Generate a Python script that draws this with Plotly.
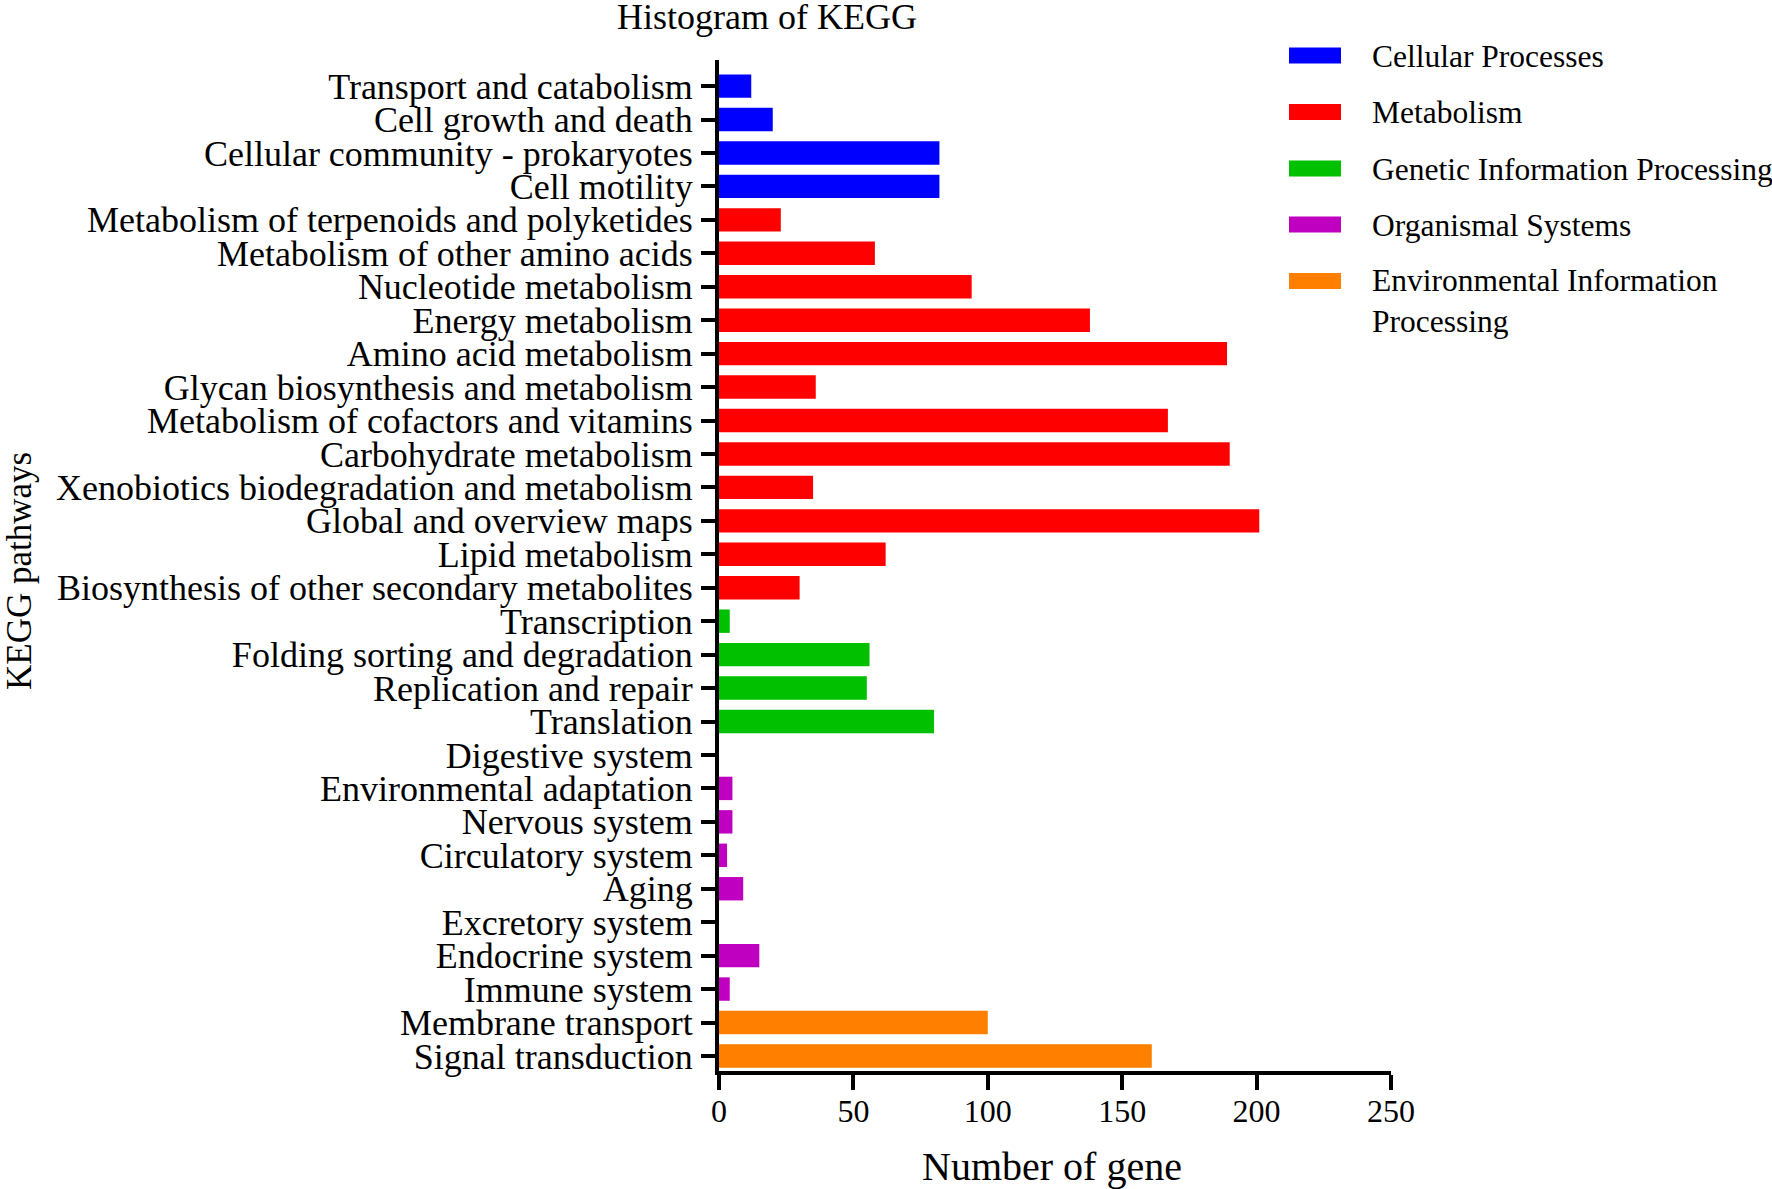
import plotly.graph_objects as go

# ---- data (top-to-bottom order as in the chart) ----
cellular_cats = ["Transport and catabolism", "Cell growth and death",
                 "Cellular community - prokaryotes", "Cell motility"]
cellular_vals = [12, 20, 82, 82]

metabolism_cats = ["Metabolism of terpenoids and polyketides", "Metabolism of other amino acids",
                   "Nucleotide metabolism", "Energy metabolism", "Amino acid metabolism",
                   "Glycan biosynthesis and metabolism", "Metabolism of cofactors and vitamins",
                   "Carbohydrate metabolism", "Xenobiotics biodegradation and metabolism",
                   "Global and overview maps", "Lipid metabolism",
                   "Biosynthesis of other secondary metabolites"]
metabolism_vals = [23, 58, 94, 138, 189, 36, 167, 190, 35, 201, 62, 30]

genetic_cats = ["Transcription", "Folding sorting and degradation",
                "Replication and repair", "Translation"]
genetic_vals = [4, 56, 55, 80]

organismal_cats = ["Digestive system", "Environmental adaptation", "Nervous system",
                   "Circulatory system", "Aging", "Excretory system",
                   "Endocrine system", "Immune system"]
organismal_vals = [0, 5, 5, 3, 9, 0, 15, 4]

environmental_cats = ["Membrane transport", "Signal transduction"]
environmental_vals = [100, 161]

group_names = ["Cellular Processes", "Metabolism", "Genetic Information Processing",
               "Organismal Systems", "Environmental Information<br>Processing"]
group_colors = ["#0000FF", "#FF0000", "#00C000", "#C000C0", "#FF8000"]

x_ticks = [0, 50, 100, 150, 200, 250]

groups = [(cellular_cats, cellular_vals), (metabolism_cats, metabolism_vals),
          (genetic_cats, genetic_vals), (organismal_cats, organismal_vals),
          (environmental_cats, environmental_vals)]

all_cats = [c for cats, _ in groups for c in cats]

FONT = "Liberation Serif"

# layout geometry (pixels)
W, H = 1772, 1189
L, R, T, B = 719, 381, 60, 118
PW, PH = W - L - R, H - T - B


def px_to_paper_x(px):
    return (px - L) / PW


def px_to_paper_y(py):
    return (H - B - py) / PH


fig = go.Figure()
for (cats, vals), name, color in zip(groups, group_names, group_colors):
    fig.add_trace(go.Bar(
        y=cats, x=vals, orientation="h", name=name.replace("<br>", " "),
        marker=dict(color=color, line=dict(width=0)),
        showlegend=False,
    ))

fig.update_layout(
    width=W, height=H,
    paper_bgcolor="white", plot_bgcolor="white",
    margin=dict(l=L, r=R, t=T, b=B),
    barmode="overlay", bargap=0.3,
    font=dict(family=FONT, color="black"),
    title=dict(text="Histogram of KEGG", x=767 / W, xref="container", xanchor="center",
               y=1 - 16 / H, yref="container", yanchor="middle",
               font=dict(family=FONT, size=36, color="black")),
    showlegend=False,
)

fig.update_xaxes(
    range=[0, 250], tickvals=x_ticks, ticktext=[str(v) for v in x_ticks],
    showline=True, linecolor="black", linewidth=4,
    ticks="outside", ticklen=15, tickwidth=4, tickcolor="black",
    tickfont=dict(family=FONT, size=32, color="black"),
    ticklabelstandoff=-6,
    showgrid=False, zeroline=False,
)
fig.update_yaxes(
    type="category", categoryorder="array", categoryarray=all_cats[::-1],
    tickmode="array", tickvals=all_cats, ticktext=all_cats,
    range=[-0.45, 29.78],
    showline=True, linecolor="black", linewidth=4,
    ticks="outside", ticklen=14, tickwidth=4, tickcolor="black",
    tickfont=dict(family=FONT, size=36, color="black"),
    ticklabelstandoff=1,
    showgrid=False, zeroline=False,
)

# axis titles
fig.add_annotation(text="Number of gene", xref="paper", yref="paper",
                   x=0.496, y=px_to_paper_y(1166), xanchor="center", yanchor="middle",
                   showarrow=False, font=dict(family=FONT, size=40, color="black"))
fig.add_annotation(text="KEGG pathways", xref="paper", yref="paper",
                   x=px_to_paper_x(19), y=px_to_paper_y(571), xanchor="center", yanchor="middle",
                   textangle=-90, showarrow=False,
                   font=dict(family=FONT, size=35, color="black"))

# legend (swatches + labels)
legend_centers = [55.5, 112, 168.5, 224.5, 281]
for name, color, cy in zip(group_names, group_colors, legend_centers):
    fig.add_shape(type="rect", xref="paper", yref="paper",
                  x0=px_to_paper_x(1289), x1=px_to_paper_x(1341),
                  y0=px_to_paper_y(cy + 8), y1=px_to_paper_y(cy - 8),
                  fillcolor=color, line=dict(width=0))
    n_lines = name.count("<br>") + 1
    ty = cy + 1 + (n_lines - 1) * 19
    fig.add_annotation(text=name, xref="paper", yref="paper",
                       x=px_to_paper_x(1370), y=px_to_paper_y(ty),
                       xanchor="left", yanchor="middle", align="left",
                       showarrow=False, font=dict(family=FONT, size=31.5, color="black"))

fig.write_html("out.html", config={"displayModeBar": False},
               post_script="document.body.style.margin='0';")
